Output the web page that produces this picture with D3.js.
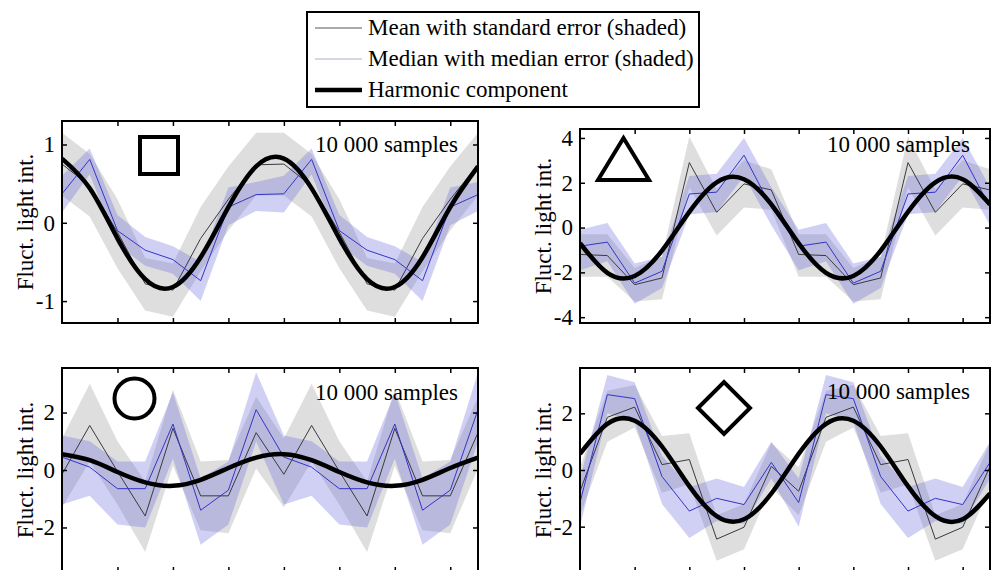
<!DOCTYPE html>
<html>
<head>
<meta charset="utf-8">
<script src="https://cdnjs.cloudflare.com/ajax/libs/d3/7.8.5/d3.min.js"></script>
<style>
  body { margin: 0; background: #fff; }
  svg { display: block; font-family: "Liberation Serif", "Times New Roman", serif; }
</style>
</head>
<body>
<svg id="chart" width="996" height="570"></svg>
<script>
// phase bins, two cycles shown one after the other
var bins = d3.range(16);

// square panel
var sqMean   = [0.75, 0.47, -0.12, -0.78, -0.86, -0.20, 0.30, 0.74, 0.75, 0.47, -0.12, -0.78, -0.86, -0.20, 0.30, 0.74];
var sqMeanLo = [0.35, 0.08, -0.58, -1.12, -1.20, -0.62, -0.10, 0.35, 0.35, 0.08, -0.58, -1.12, -1.20, -0.62, -0.10, 0.35];
var sqMeanHi = [1.15, 0.88, 0.30, -0.45, -0.52, 0.20, 0.72, 1.15, 1.15, 0.88, 0.30, -0.45, -0.52, 0.20, 0.72, 1.15];
var sqMed    = [0.37, 0.81, -0.10, -0.35, -0.47, -0.74, 0.20, 0.36, 0.37, 0.81, -0.10, -0.35, -0.47, -0.74, 0.20, 0.36];
var sqMedLo  = [0.13, 0.62, -0.28, -0.55, -0.65, -1.00, -0.03, 0.15, 0.13, 0.62, -0.28, -0.55, -0.65, -1.00, -0.03, 0.15];
var sqMedHi  = [0.60, 0.95, 0.10, -0.18, -0.30, -0.50, 0.45, 0.52, 0.60, 0.95, 0.10, -0.18, -0.30, -0.50, 0.45, 0.52];
var sqHarm   = [0.82, 0.44, -0.20, -0.72, -0.82, -0.44, 0.20, 0.72, 0.82, 0.44, -0.20, -0.72, -0.82, -0.44, 0.20, 0.72];

// triangle panel
var trMean   = [-1.20, -1.25, -2.55, -2.25, 2.90, 0.68, 1.95, 1.68, -1.20, -1.25, -2.55, -2.25, 2.90, 0.68, 1.95, 1.68];
var trMeanLo = [-2.20, -2.20, -3.30, -3.20, 1.80, -0.35, 0.90, 0.80, -2.20, -2.20, -3.30, -3.20, 1.80, -0.35, 0.90, 0.80];
var trMeanHi = [-0.30, -0.30, -1.80, -1.30, 4.05, 1.70, 3.00, 2.60, -0.30, -0.30, -1.80, -1.30, 4.05, 1.70, 3.00, 2.60];
var trMed    = [-0.83, -0.65, -2.48, -1.95, 1.50, 1.58, 3.23, 0.90, -0.83, -0.65, -2.48, -1.95, 1.50, 1.58, 3.23, 0.90];
var trMedLo  = [-1.90, -1.50, -3.40, -2.70, 0.60, 0.70, 2.30, 0.10, -1.90, -1.50, -3.40, -2.70, 0.60, 0.70, 2.30, 0.10];
var trMedHi  = [-0.10, 0.20, -1.60, -1.30, 2.30, 2.40, 4.00, 1.80, -0.10, 0.20, -1.60, -1.30, 2.30, 2.40, 4.00, 1.80];
var trHarm   = [-0.70, -2.02, -2.16, -1.03, 0.70, 2.02, 2.16, 1.03, -0.70, -2.02, -2.16, -1.03, 0.70, 2.02, 2.16, 1.03];

// circle panel
var ciMean   = [-0.15, 1.55, -0.05, -1.60, 1.45, -0.90, -0.90, 1.30, -0.15, 1.55, -0.05, -1.60, 1.45, -0.90, -0.90, 1.30];
var ciMeanLo = [-1.30, 0.30, -1.20, -2.85, 0.15, -2.10, -2.20, 0.05, -1.30, 0.30, -1.20, -2.85, 0.15, -2.10, -2.20, 0.05];
var ciMeanHi = [1.10, 3.00, 1.00, -0.40, 2.80, 0.30, 0.35, 2.55, 1.10, 3.00, 1.00, -0.40, 2.80, 0.30, 0.35, 2.55];
var ciMed    = [0.45, 0.10, -0.65, -0.65, 1.60, -1.40, -0.70, 2.10, 0.45, 0.10, -0.65, -0.65, 1.60, -1.40, -0.70, 2.10];
var ciMedLo  = [-1.20, -0.90, -1.90, -2.00, 0.40, -2.60, -1.90, 1.00, -1.20, -0.90, -1.90, -2.00, 0.40, -2.60, -1.90, 1.00];
var ciMedHi  = [1.20, 1.00, 0.30, 0.30, 2.70, -0.30, 0.30, 3.40, 1.20, 1.00, 0.30, 0.30, 2.70, -0.30, 0.30, 3.40];
var ciHarm   = [0.55, 0.34, -0.07, -0.43, -0.55, -0.34, 0.07, 0.43, 0.55, 0.34, -0.07, -0.43, -0.55, -0.34, 0.07, 0.43];

// diamond panel
var diMean   = [-0.75, 1.86, 2.22, 0.19, 0.37, -2.44, -2.02, 0.13, -0.75, 1.86, 2.22, 0.19, 0.37, -2.44, -2.02, 0.13];
var diMeanLo = [-1.60, 1.00, 1.50, -0.80, -0.50, -3.20, -2.80, -0.60, -1.60, 1.00, 1.50, -0.80, -0.50, -3.20, -2.80, -0.60];
var diMeanHi = [0.10, 2.80, 3.00, 1.20, 1.30, -1.60, -1.20, 0.95, 0.10, 2.80, 3.00, 1.20, 1.30, -1.60, -1.20, 0.95];
var diMed    = [-1.15, 2.66, 2.52, -0.23, -1.45, -1.00, -1.22, 0.27, -1.15, 2.66, 2.52, -0.23, -1.45, -1.00, -1.22, 0.27];
var diMedLo  = [-2.00, 2.00, 1.70, -1.20, -2.40, -1.80, -1.90, -0.30, -2.00, 2.00, 1.70, -1.20, -2.40, -1.80, -1.90, -0.30];
var diMedHi  = [-0.30, 3.35, 3.10, 0.50, -0.60, -0.30, -0.60, 1.00, -0.30, 3.35, 3.10, 0.50, -0.60, -0.30, -0.60, 1.00];
var diHarm   = [0.57, 1.63, 1.74, 0.83, -0.57, -1.63, -1.74, -0.83, 0.57, 1.63, 1.74, 0.83, -0.57, -1.63, -1.74, -0.83];

var xTicks = [2, 4, 6, 8, 10, 12, 14];
var sampleLabel = "10 000 samples";
var yLabel = "Fluct. light int.";
var legendLabels = ["Mean with standard error (shaded)", "Median with median error (shaded)", "Harmonic component"];

var FONT = 23;
var GRAY_BAND = "rgba(190,190,190,0.5)",
    BLUE_BAND = "rgba(100,100,220,0.3)",
    MEAN_COL = "#3a3a3a",
    MED_COL = "#3434c8";

var svg = d3.select("#chart");

var panels = [
  {id: "sq", left: 62, right: 478, top: 121, bottom: 323, yDomain: [-1.28, 1.30], yTicks: [-1, 0, 1],
   labelX: 25, textY: 152, marker: "square",
   mean: sqMean, meanLo: sqMeanLo, meanHi: sqMeanHi, med: sqMed, medLo: sqMedLo, medHi: sqMedHi, harm: sqHarm},
  {id: "tr", left: 580, right: 990, top: 129, bottom: 323, yDomain: [-4.26, 4.40], yTicks: [-4, -2, 0, 2, 4],
   labelX: 543, textY: 152, marker: "triangle",
   mean: trMean, meanLo: trMeanLo, meanHi: trMeanHi, med: trMed, medLo: trMedLo, medHi: trMedHi, harm: trHarm},
  {id: "ci", left: 62, right: 478, top: 368, bottom: 572, yDomain: [-3.55, 3.55], yTicks: [-2, 0, 2],
   labelX: 25, textY: 400, marker: "circle",
   mean: ciMean, meanLo: ciMeanLo, meanHi: ciMeanHi, med: ciMed, medLo: ciMedLo, medHi: ciMedHi, harm: ciHarm},
  {id: "di", left: 580, right: 990, top: 368, bottom: 572, yDomain: [-3.6, 3.6], yTicks: [-2, 0, 2],
   labelX: 543, textY: 399, marker: "diamond",
   mean: diMean, meanLo: diMeanLo, meanHi: diMeanHi, med: diMed, medLo: diMedLo, medHi: diMedHi, harm: diHarm}
];

panels.forEach(drawPanel);
drawLegend();

function drawPanel(p) {
  var x = d3.scaleLinear().domain([0, 15]).range([p.left, p.right]);
  var y = d3.scaleLinear().domain(p.yDomain).range([p.bottom, p.top]);

  var rows = bins.map(function(b, i) {
    return {x: b, mean: p.mean[i], meanLo: p.meanLo[i], meanHi: p.meanHi[i],
            med: p.med[i], medLo: p.medLo[i], medHi: p.medHi[i], harm: p.harm[i]};
  });

  svg.append("clipPath").attr("id", "clip-" + p.id)
    .append("rect")
      .attr("x", p.left).attr("y", p.top)
      .attr("width", p.right - p.left).attr("height", p.bottom - p.top);

  var g = svg.append("g").attr("clip-path", "url(#clip-" + p.id + ")");

  var band = function(lo, hi) {
    return d3.area()
      .x(function(d) { return x(d.x); })
      .y0(function(d) { return y(d[lo]); })
      .y1(function(d) { return y(d[hi]); });
  };
  var line = function(key) {
    return d3.line()
      .x(function(d) { return x(d.x); })
      .y(function(d) { return y(d[key]); });
  };

  g.append("path").datum(rows).attr("d", band("meanLo", "meanHi")).attr("fill", GRAY_BAND);
  g.append("path").datum(rows).attr("d", band("medLo", "medHi")).attr("fill", BLUE_BAND);

  g.append("path").datum(rows).attr("d", line("mean"))
    .attr("fill", "none").attr("stroke", MEAN_COL).attr("stroke-width", 1);
  g.append("path").datum(rows).attr("d", line("med"))
    .attr("fill", "none").attr("stroke", MED_COL).attr("stroke-width", 1);

  g.append("path").datum(rows).attr("d", line("harm").curve(d3.curveNatural))
    .attr("fill", "none").attr("stroke", "#000").attr("stroke-width", 4.5);

  // axes, ticks pointing inward on every side
  var styleAxis = function(sel) {
    sel.select(".domain").remove();
    sel.selectAll(".tick line").attr("stroke", "#000").attr("stroke-width", 1.5);
    sel.selectAll("text").attr("font-size", FONT).attr("font-family", "Liberation Serif, serif").attr("fill", "#000");
  };

  svg.append("g").attr("transform", "translate(" + p.left + ",0)")
    .call(d3.axisLeft(y).tickValues(p.yTicks).tickSize(-5).tickPadding(7)
      .tickFormat(function(d) { return String(d); }))
    .call(styleAxis);
  svg.append("g").attr("transform", "translate(" + p.right + ",0)")
    .call(d3.axisRight(y).tickValues(p.yTicks).tickSize(-5).tickFormat(""))
    .call(styleAxis);
  svg.append("g").attr("transform", "translate(0," + p.top + ")")
    .call(d3.axisTop(x).tickValues(xTicks).tickSize(-5).tickFormat(""))
    .call(styleAxis);
  svg.append("g").attr("transform", "translate(0," + p.bottom + ")")
    .call(d3.axisBottom(x).tickValues(xTicks).tickSize(-5).tickFormat(""))
    .call(styleAxis);

  svg.append("rect")
    .attr("x", p.left).attr("y", p.top)
    .attr("width", p.right - p.left).attr("height", p.bottom - p.top)
    .attr("fill", "none").attr("stroke", "#000").attr("stroke-width", 2);

  svg.append("text")
    .attr("transform", "translate(" + p.labelX + "," + ((p.top + p.bottom) / 2) + ") rotate(-90)")
    .attr("text-anchor", "middle").attr("dy", "0.35em")
    .attr("font-size", FONT)
    .text(yLabel);

  svg.append("text")
    .attr("x", p.right - 20).attr("y", p.textY)
    .attr("text-anchor", "end")
    .attr("font-size", FONT)
    .text(sampleLabel);

  drawMarker(p.marker);
}

function drawMarker(kind) {
  var m = svg.append("g").attr("fill", "none").attr("stroke", "#000").attr("stroke-width", 4);
  if (kind == "square") {
    m.append("rect").attr("x", 140).attr("y", 137).attr("width", 38).attr("height", 37);
  } else if (kind == "triangle") {
    m.append("path").attr("d", "M598,180L649,180L623.5,138Z");
  } else if (kind == "circle") {
    m.append("circle").attr("cx", 134.5).attr("cy", 398.5).attr("r", 20);
  } else {
    m.append("path").attr("d", "M698,408L724,382L750,408L724,434Z");
  }
}

function drawLegend() {
  var lg = svg.append("g");
  lg.append("rect")
    .attr("x", 307).attr("y", 12).attr("width", 392).attr("height", 95)
    .attr("fill", "#fff").attr("stroke", "#000").attr("stroke-width", 2);

  var styles = [
    {stroke: "#555", width: 1.2},
    {stroke: "#b4aec8", width: 1},
    {stroke: "#000", width: 4.5}
  ];
  legendLabels.forEach(function(label, i) {
    var cy = 28 + i * 31;
    lg.append("line")
      .attr("x1", 315).attr("x2", 362).attr("y1", cy).attr("y2", cy)
      .attr("stroke", styles[i].stroke).attr("stroke-width", styles[i].width);
    lg.append("text")
      .attr("x", 368).attr("y", cy).attr("dy", "0.32em")
      .attr("font-size", FONT)
      .text(label);
  });
}
</script>
</body>
</html>
